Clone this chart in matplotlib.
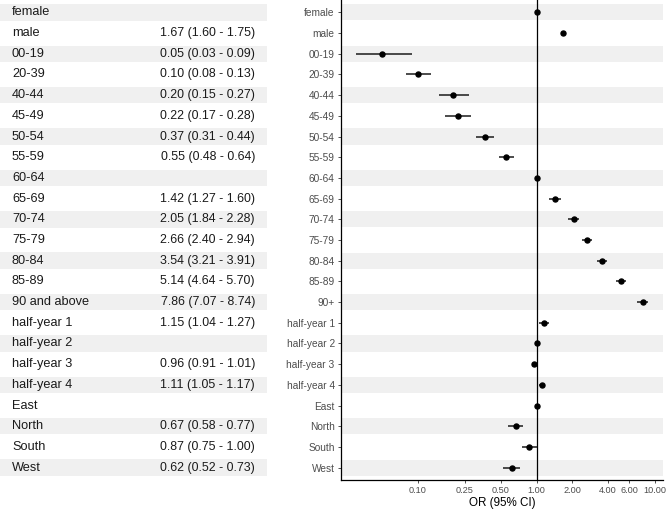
import matplotlib
matplotlib.use("Agg")
import matplotlib.pyplot as plt
import numpy as np

plt.rcParams['font.family'] = ['Liberation Sans', 'DejaVu Sans']

# table labels (left) and axis labels (right)
labels_left = ["female", "male", "00-19", "20-39", "40-44", "45-49", "50-54", "55-59",
               "60-64", "65-69", "70-74", "75-79", "80-84", "85-89", "90 and above",
               "half-year 1", "half-year 2", "half-year 3", "half-year 4",
               "East", "North", "South", "West"]
labels_right = ["female", "male", "00-19", "20-39", "40-44", "45-49", "50-54", "55-59",
                "60-64", "65-69", "70-74", "75-79", "80-84", "85-89", "90+",
                "half-year 1", "half-year 2", "half-year 3", "half-year 4",
                "East", "North", "South", "West"]

odds = [1, 1.67, 0.05, 0.10, 0.20, 0.22, 0.37, 0.55, 1, 1.42, 2.05, 2.66, 3.54, 5.14, 7.86,
        1.15, 1, 0.96, 1.11, 1, 0.67, 0.87, 0.62]
lower = [np.nan, 1.60, 0.03, 0.08, 0.15, 0.17, 0.31, 0.48, np.nan, 1.27, 1.84, 2.40, 3.21,
         4.64, 7.07, 1.04, np.nan, 0.91, 1.05, np.nan, 0.58, 0.75, 0.52]
upper = [np.nan, 1.75, 0.09, 0.13, 0.27, 0.28, 0.44, 0.64, np.nan, 1.60, 2.28, 2.94, 3.91,
         5.70, 8.74, 1.27, np.nan, 1.01, 1.17, np.nan, 0.77, 1.00, 0.73]

xticks = [0.10, 0.25, 0.50, 1.00, 2.00, 4.00, 6.00, 10.00]

n = len(labels_left)
ypos = np.arange(n, 0, -1)
stripe = '#f0f0f0'

fig = plt.figure(figsize=(6.68, 5.09), dpi=100)
bottom = 29 / 509
height = 480 / 509

# left: table
tab = fig.add_axes([0, bottom, 267 / 668, height])
tab.set_xlim(0, 1)
tab.set_ylim(0.4, n + 0.6)
tab.axis('off')
for i in range(n):
    if i % 2 == 0:
        tab.barh(ypos[i], 1, height=0.8, left=0, color=stripe, lw=0)
    tab.text(12 / 267, ypos[i], labels_left[i], ha='left', va='center', fontsize=9.2,
             color='#1a1a1a')
    if not np.isnan(lower[i]):
        s = '%.2f (%.2f - %.2f)' % (odds[i], lower[i], upper[i])
        tab.text(255 / 267, ypos[i], s, ha='right', va='center', fontsize=8.9,
                 color='#1a1a1a')

# right: forest plot
ax = fig.add_axes([341 / 668, bottom, 322 / 668, height])
ax.set_xscale('log')
ax.set_xlim(0.0226, 11.6)
ax.set_ylim(0.4, n + 0.6)
for i in range(n):
    if i % 2 == 0:
        ax.axhspan(ypos[i] - 0.39, ypos[i] + 0.39, color=stripe, lw=0, zorder=0)

o = np.array(odds)
lo = np.array(lower)
hi = np.array(upper)
ax.hlines(ypos, lo, hi, color='#1a1a1a', lw=1.1, zorder=2)
ax.plot(o, ypos, 'o', color='black', ms=3.6, zorder=3)
ax.axvline(1, color='black', lw=0.9, zorder=1)

ax.set_yticks(ypos)
ax.set_yticklabels(labels_right, fontsize=7.3, color='#4d4d4d')
ax.set_xticks(xticks)
ax.set_xticklabels(['%.2f' % t for t in xticks], fontsize=6.6, color='#4d4d4d')
ax.xaxis.set_minor_locator(matplotlib.ticker.NullLocator())
ax.tick_params(axis='both', length=2.5, width=0.6, color='#333333', pad=2)
ax.set_xlabel('OR (95% CI)', fontsize=8.4, labelpad=1)
ax.spines['top'].set_visible(False)
ax.spines['right'].set_visible(False)
ax.spines['left'].set_linewidth(0.9)
ax.spines['bottom'].set_linewidth(0.9)

fig.savefig('out.png', dpi=100)
